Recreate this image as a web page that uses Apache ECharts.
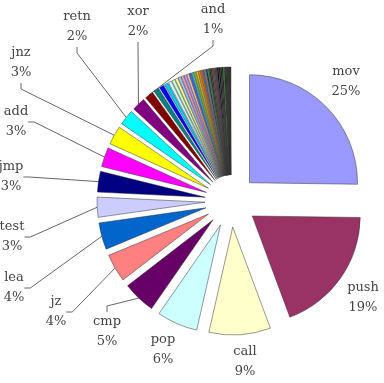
<!DOCTYPE html>
<html>
<head>
<meta charset="utf-8">
<style>
html, body { margin: 0; padding: 0; background: #fff; }
#chart { width: 384px; height: 383px; }
</style>
<script src="https://cdn.jsdelivr.net/npm/echarts@6/dist/echarts.min.js"></script>
</head>
<body>
<div id="chart"></div>
<script>
// labelled instructions, clockwise from 12 o'clock (share in %)
const labelledNames = ['mov', 'push', 'call', 'pop', 'cmp', 'jz', 'lea', 'test', 'jmp', 'add', 'jnz', 'retn', 'xor', 'and'];
const labelledValues = [25.2, 19.1, 9.2, 6.1, 4.9, 4.2, 4.0, 3.0, 3.1, 2.9, 2.8, 2.3, 2.0, 1.3];

// the long tail of small unlabelled instructions
const tailValues = [
    0.8, 0.7, 0.55, 0.45, 0.45, 0.4, 0.38, 0.36, 0.34, 0.32, 0.3, 0.28, 0.27,
    0.26, 0.25, 0.24, 0.23, 0.22, 0.2, 0.19, 0.18, 0.17, 0.16, 0.15, 0.14, 0.13,
    0.22, 0.2, 0.18, 0.16, 0.15, 0.14, 0.13, 0.12, 0.11, 0.1, 0.1, 0.09
];

// Excel 2003 chart palette order
const sliceColors = [
    '#9999ff', '#993366', '#ffffcc', '#ccffff', '#660066', '#ff8080', '#0066cc', '#ccccff',
    '#000080', '#ff00ff', '#ffff00', '#00ffff', '#800080', '#800000', '#008080', '#0000ff',
    '#00ccff', '#ccffff', '#ccffcc', '#ffff99', '#99ccff', '#ff99cc', '#cc99ff', '#ffcc99',
    '#3366ff', '#33cccc', '#99cc00', '#ffcc00', '#ff9900', '#ff6600', '#666699', '#969696',
    '#003366', '#339966', '#003300', '#333300', '#993300', '#993366', '#333399', '#333333',
    '#000000', '#000000', '#111111', '#000000', '#00cc00', '#000000', '#000000', '#111111',
    '#000000', '#000000', '#000000', '#000000'
];

// where each label sits (centre of the two-line block)
const labelCentres = {
    mov: [346, 82], push: [363, 298], call: [245, 362], pop: [163, 350],
    cmp: [107, 332], jz: [56, 312], lea: [14, 288], test: [12, 237],
    jmp: [11, 177], add: [16, 122], jnz: [21, 63], retn: [77, 27],
    xor: [138, 22], and: [213, 20]
};
const noLeader = ['mov', 'push', 'call', 'pop'];

const PIE_CENTER = [231, 201];
const PIE_RADIUS = 108;
const EXPLODE = 26;

const names = labelledNames.concat(tailValues.map((v, i) => 'other ' + (i + 1)));
const values = labelledValues.concat(tailValues);

// exploded slices
const sliceData = names.map((name, i) => ({ name, value: values[i], selected: true }));

// an invisible, un-exploded copy that carries the labels and leader lines
const labelData = names.map((name, i) => {
    const shown = i < labelledNames.length;
    return {
        name,
        value: values[i],
        label: { show: shown },
        labelLine: { show: shown && !noLeader.includes(name) }
    };
});

const labelText = {
    fontFamily: 'DejaVu Serif',
    fontSize: 13,
    lineHeight: 20,
    color: '#444'
};

const chart = echarts.init(document.getElementById('chart'));
chart.setOption({
    animation: false,
    color: sliceColors,
    series: [{
        type: 'pie',
        name: 'labels',
        silent: true,
        center: PIE_CENTER,
        radius: [0, PIE_RADIUS + EXPLODE],
        startAngle: 90,
        clockwise: true,
        avoidLabelOverlap: false,
        itemStyle: { color: 'rgba(0,0,0,0)', borderWidth: 0 },
        label: {
            position: 'outside',
            ...labelText,
            formatter: p => p.name + '\n' + Math.round(p.percent) + '%'
        },
        labelLine: {
            length: 10,
            length2: 6,
            lineStyle: { color: '#666', width: 1 }
        },
        emphasis: { disabled: true },
        labelLayout(params) {
            const pos = labelCentres[labelData[params.dataIndex].name];
            if (!pos) {
                return;
            }
            return { x: pos[0], y: pos[1], align: 'center', verticalAlign: 'middle' };
        },
        data: labelData
    }, {
        type: 'pie',
        name: 'instructions',
        silent: true,
        center: PIE_CENTER,
        radius: [0, PIE_RADIUS],
        startAngle: 90,
        clockwise: true,
        selectedMode: 'multiple',
        selectedOffset: EXPLODE,
        itemStyle: { borderColor: '#333', borderWidth: 0.5 },
        label: { show: false },
        labelLine: { show: false },
        emphasis: { disabled: true },
        select: {
            itemStyle: { borderColor: '#333', borderWidth: 0.5 }
        },
        data: sliceData
    }]
});
</script>
</body>
</html>
